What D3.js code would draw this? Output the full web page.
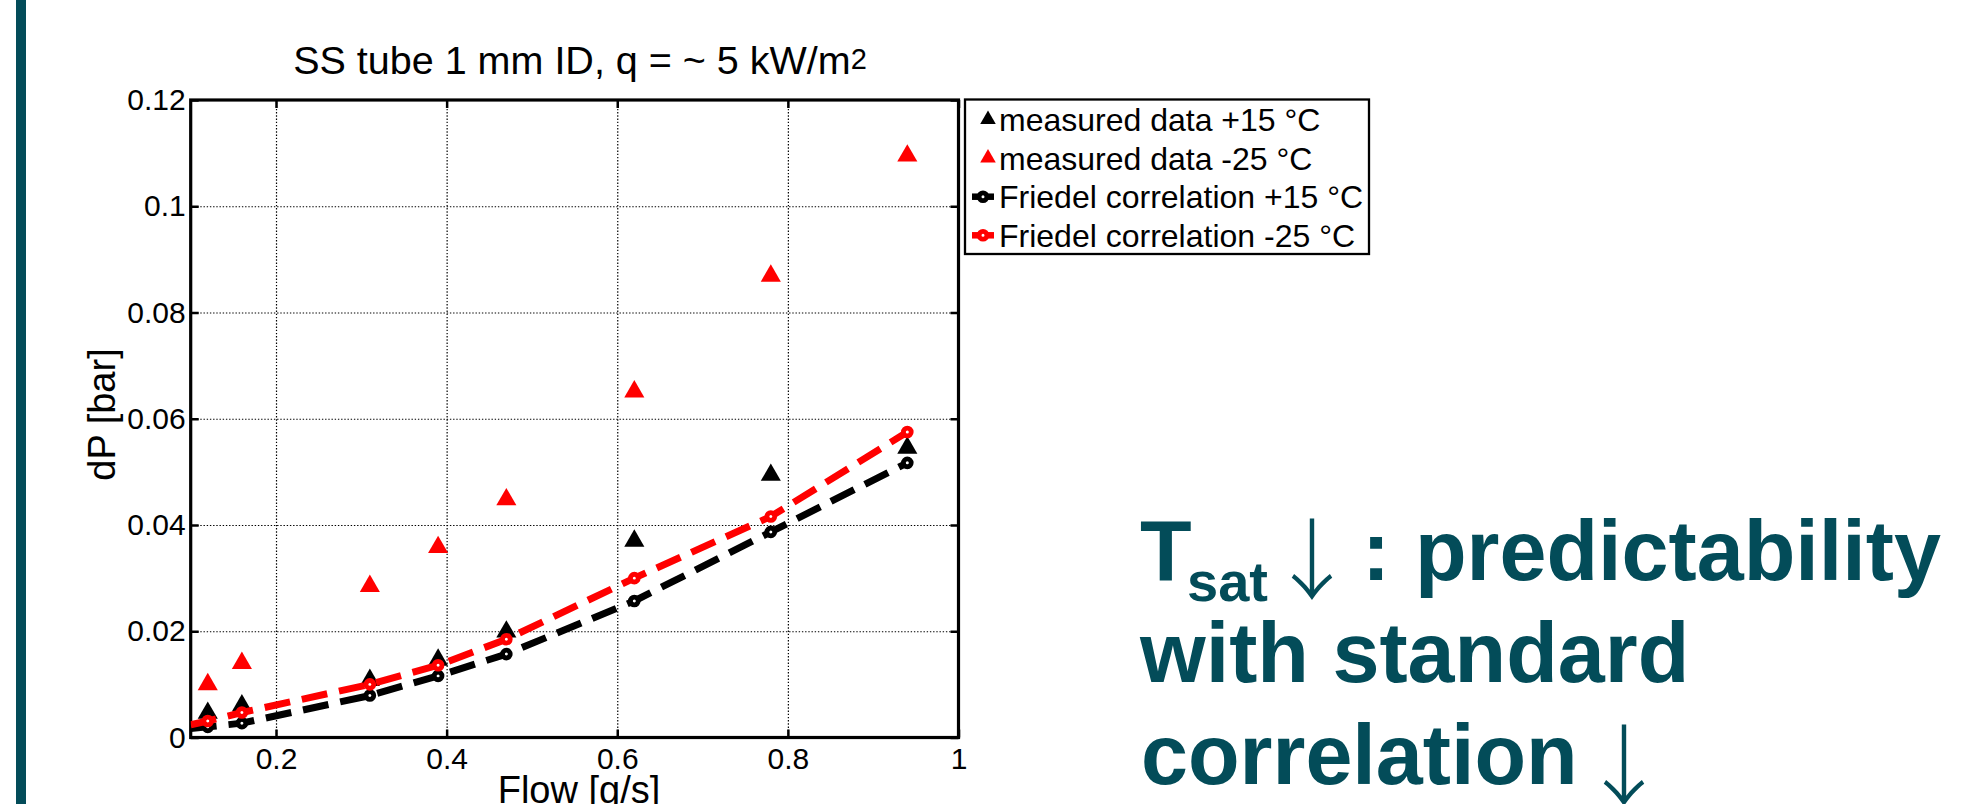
<!DOCTYPE html>
<html><head><meta charset="utf-8">
<script src="https://cdn.jsdelivr.net/npm/d3@7"></script>
<style>
body{margin:0;background:#fff;}
svg{display:block;}
text{font-family:"Liberation Sans",Arial,Helvetica,sans-serif;}
</style>
</head><body>
<svg id="c" width="1963" height="804"></svg>
<script>
// ---------------- data ----------------
const flow      = [0.12, 0.16, 0.31, 0.39, 0.47, 0.62, 0.78, 0.94];
const meas15    = [0.0046, 0.0060, 0.0108, 0.0146, 0.0199, 0.0370, 0.0494, 0.0545];
const meas25    = [0.0100, 0.0140, 0.0285, 0.0358, 0.0448, 0.0651, 0.0869, 0.1095];
const fried15   = [0.0020, 0.0027, 0.0079, 0.0116, 0.0157, 0.0257, 0.0387, 0.0517];
const fried25   = [0.0031, 0.0047, 0.0100, 0.0136, 0.0185, 0.0300, 0.0416, 0.0575];
// where the correlation curves meet the left axis (continuation of clipped segment)
const edgeFlow    = 0.10;
const fried15Edge = 0.0017;
const fried25Edge = 0.0024;

const xDomain = [0.1, 1];
const yDomain = [0, 0.12];
const xTicks = [0.2, 0.4, 0.6, 0.8, 1];
const xTickLabels = ["0.2", "0.4", "0.6", "0.8", "1"];
const yTicks = [0, 0.02, 0.04, 0.06, 0.08, 0.1, 0.12];
const yTickLabels = ["0", "0.02", "0.04", "0.06", "0.08", "0.1", "0.12"];

const titleMain = "SS tube 1 mm ID, q = ~ 5 kW/m";
const titleSup = "2";
const xLabel = "Flow [g/s]";
const yLabel = "dP [bar]";
const legendLabels = ["measured data +15 °C", "measured data -25 °C",
                      "Friedel correlation +15 °C", "Friedel correlation -25 °C"];
const noteLine1 = ["T", "sat", "↓", ":", "predictability"];
const noteLine2 = "with standard";
const noteLine3 = ["correlation", "↓"];

// ---------------- layout ----------------
const teal = "#034c59";
const M = {l: 190.7, r: 958.5, t: 100, b: 737.5};
const svg = d3.select("#c");
const x = d3.scaleLinear().domain(xDomain).range([M.l, M.r]);
const y = d3.scaleLinear().domain(yDomain).range([M.b, M.t]);

// left teal bar
svg.append("rect").attr("x", 16).attr("y", 0).attr("width", 10).attr("height", 804).attr("fill", teal);

// clip
svg.append("defs").append("clipPath").attr("id", "clip")
  .append("rect").attr("x", M.l).attr("y", M.t).attr("width", M.r - M.l).attr("height", M.b - M.t);

// grid
const gx = svg.append("g").attr("transform", `translate(0,${M.b})`)
  .call(d3.axisBottom(x).tickValues(xTicks.filter(v => v < xDomain[1])).tickSize(-(M.b - M.t)).tickFormat(""));
const gy = svg.append("g").attr("transform", `translate(${M.l},0)`)
  .call(d3.axisLeft(y).tickValues(yTicks.filter(v => v > yDomain[0] && v < yDomain[1])).tickSize(-(M.r - M.l)).tickFormat(""));
[gx, gy].forEach(g => {
  g.select(".domain").remove();
  g.selectAll("line").attr("stroke", "#000").attr("stroke-width", 1.2).attr("stroke-dasharray", "1.4,1.8");
});

// axes with inward ticks
const fs = 30;
const ax = svg.append("g").attr("transform", `translate(0,${M.b})`)
  .call(d3.axisBottom(x).tickValues(xTicks).tickSizeInner(-8).tickSizeOuter(0).tickPadding(10)
        .tickFormat((d, i) => xTickLabels[i]));
const ay = svg.append("g").attr("transform", `translate(${M.l},0)`)
  .call(d3.axisLeft(y).tickValues(yTicks).tickSizeInner(-8).tickSizeOuter(0).tickPadding(5)
        .tickFormat((d, i) => yTickLabels[i]));
const axT = svg.append("g").attr("transform", `translate(0,${M.t})`)
  .call(d3.axisTop(x).tickValues(xTicks).tickSizeInner(-8).tickSizeOuter(0).tickFormat(""));
const ayR = svg.append("g").attr("transform", `translate(${M.r},0)`)
  .call(d3.axisRight(y).tickValues(yTicks).tickSizeInner(-8).tickSizeOuter(0).tickFormat(""));
[ax, ay, axT, ayR].forEach(g => {
  g.select(".domain").remove();
  g.selectAll("line").attr("stroke", "#000").attr("stroke-width", 2.5);
  g.selectAll("text").attr("fill", "#000").attr("font-size", fs)
    .style("font-family", '"Liberation Sans", Arial, sans-serif');
});

// box
svg.append("rect").attr("x", M.l).attr("y", M.t).attr("width", M.r - M.l).attr("height", M.b - M.t)
  .attr("fill", "none").attr("stroke", "#000").attr("stroke-width", 3.2);

// plot layer
const plot = svg.append("g").attr("clip-path", "url(#clip)");
const tri = d3.symbol().type(d3.symbolTriangle).size(175);

function triangles(vals, color) {
  plot.append("g").selectAll("path").data(flow.map((f, i) => [f, vals[i]])).join("path")
    .attr("d", tri).attr("transform", d => `translate(${x(d[0])},${y(d[1])})`)
    .attr("fill", color);
}
triangles(meas15, "#000");
triangles(meas25, "#ff0000");

const line = d3.line().x(d => x(d[0])).y(d => y(d[1]));
function corr(vals, edge, color) {
  const pts = [[edgeFlow, edge]].concat(flow.map((f, i) => [f, vals[i]]));
  plot.append("path").datum(pts).attr("d", line).attr("fill", "none")
    .attr("stroke", color).attr("stroke-width", 7).attr("stroke-dasharray", "26,12");
  plot.append("g").selectAll("circle").data(flow.map((f, i) => [f, vals[i]])).join("circle")
    .attr("cx", d => x(d[0])).attr("cy", d => y(d[1])).attr("r", 3.9)
    .attr("fill", "#fff").attr("stroke", color).attr("stroke-width", 4.8);
}
corr(fried15, fried15Edge, "#000");
corr(fried25, fried25Edge, "#ff0000");

// title
const tt = svg.append("text").attr("x", 580).attr("y", 74).attr("text-anchor", "middle")
  .attr("font-size", 39.5).attr("fill", "#000");
tt.append("tspan").text(titleMain);
tt.append("tspan").attr("font-size", 29).attr("dy", -5).text(titleSup);

// axis labels
svg.append("text").attr("x", 579).attr("y", 803).attr("text-anchor", "middle")
  .attr("font-size", 38).attr("fill", "#000").text(xLabel);
svg.append("text").attr("transform", "translate(115,414.5) rotate(-90)").attr("text-anchor", "middle")
  .attr("font-size", 38).attr("fill", "#000").text(yLabel);

// legend
const lg = svg.append("g");
lg.append("rect").attr("x", 965).attr("y", 99.5).attr("width", 404).attr("height", 154.5)
  .attr("fill", "#fff").attr("stroke", "#000").attr("stroke-width", 2.3);
const legColors = ["#000", "#ff0000", "#000", "#ff0000"];
const legTypes = ["tri", "tri", "line", "line"];
const legTri = d3.symbol().type(d3.symbolTriangle).size(105);
legendLabels.forEach((lab, i) => {
  const cy = 119.5 + i * 38.6;
  if (legTypes[i] === "tri") {
    lg.append("path").attr("d", legTri).attr("transform", `translate(988,${cy})`).attr("fill", legColors[i]);
  } else {
    lg.append("line").attr("x1", 972).attr("x2", 994).attr("y1", cy).attr("y2", cy)
      .attr("stroke", legColors[i]).attr("stroke-width", 6.5);
    lg.append("circle").attr("cx", 983).attr("cy", cy).attr("r", 3.9)
      .attr("fill", "#fff").attr("stroke", legColors[i]).attr("stroke-width", 4.8);
  }
  lg.append("text").attr("x", 999).attr("y", cy + 11.5).attr("font-size", 32).attr("fill", "#000").text(lab);
});

// side note
const arrowFont = '"Noto Sans CJK JP", "Noto Sans CJK SC", "DejaVu Sans", sans-serif';
const nfs = 84.5;
const note = svg.append("g").attr("fill", teal).attr("font-weight", "bold");
note.append("text").attr("x", 1140).attr("y", 580).attr("font-size", nfs).text(noteLine1[0]);
note.append("text").attr("x", 1187).attr("y", 601).attr("font-size", 56).text(noteLine1[1]);
note.append("text").attr("x", 1312).attr("y", 592).attr("font-size", 88).attr("font-weight", 300)
  .style("font-family", arrowFont).attr("text-anchor", "middle").text(noteLine1[2]);
note.append("text").attr("x", 1362).attr("y", 580).attr("font-size", nfs).text(noteLine1[3]);
note.append("text").attr("x", 1415).attr("y", 580).attr("font-size", nfs).text(noteLine1[4]);
note.append("text").attr("x", 1140).attr("y", 682).attr("font-size", nfs).text(noteLine2);
note.append("text").attr("x", 1141).attr("y", 784).attr("font-size", nfs).text(noteLine3[0]);
note.append("text").attr("x", 1624).attr("y", 798).attr("font-size", 88).attr("font-weight", 300)
  .style("font-family", arrowFont).attr("text-anchor", "middle").text(noteLine3[1]);
</script>
</body></html>
